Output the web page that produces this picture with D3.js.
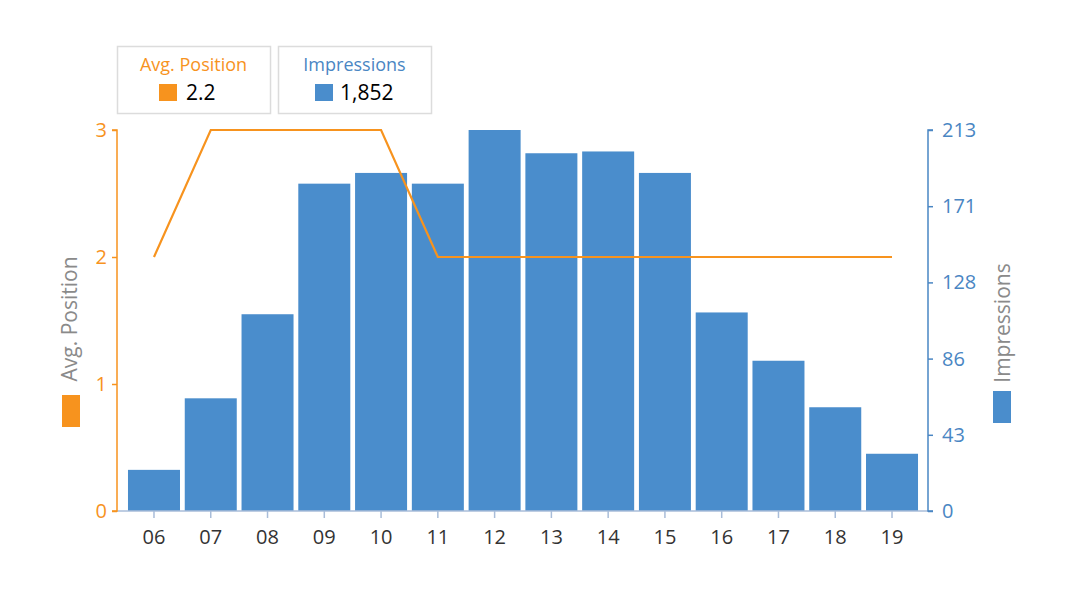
<!DOCTYPE html>
<html><head><meta charset="utf-8">
<script src="https://cdn.jsdelivr.net/npm/d3@7"></script>
<style>body{margin:0;background:#fff}svg{display:block}text{font-family:"Open Sans","Noto Sans",sans-serif}</style>
</head><body>
<svg id="c" width="1073" height="606"></svg>
<script>
const categories = ["06","07","08","09","10","11","12","13","14","15","16","17","18","19"];
const impressions = [23,63,110,183,189,183,213,200,201,189,111,84,58,32];
const avgPosition = [2,3,3,3,3,2,2,2,2,2,2,2,2,2];
const leftTicks = [0,1,2,3];
const rightTickLabels = ["0","43","86","128","171","213"];
const legendValues = ["2.2","1,852"];

const ORANGE = "#F7931E", BLUE = "#4A8DCC", AXBLUE = "#4A86C3";
const svg = d3.select("#c");
const L = 117, R = 928, T = 130, B = 511;

const x = d3.scaleBand().domain(categories).range([125.6, 920.4]).paddingInner(0.084).paddingOuter(0.042);
const yL = d3.scaleLinear().domain([0,3]).range([B,T]);
const yR = d3.scaleLinear().domain([0,213]).range([B,T]);

// bars
svg.append("g").selectAll("rect").data(categories).join("rect")
  .attr("x", d => x(d)).attr("width", x.bandwidth())
  .attr("y", (d,i) => yR(impressions[i])).attr("height", (d,i) => B - yR(impressions[i]))
  .attr("fill", BLUE);

// bottom axis
const gx = svg.append("g").attr("transform", `translate(0,${B})`)
  .call(d3.axisBottom(x).tickSize(7).tickPadding(12));
gx.select(".domain").remove();
gx.append("line").attr("x1", L).attr("x2", R).attr("stroke", "#A9BDD9").attr("stroke-width", 1.5);
gx.selectAll(".tick line").attr("stroke", "#A9BDD9").attr("stroke-width", 1.5);
gx.selectAll(".tick text").attr("fill", "#333").style("font-size", "20px");

// left axis
const gl = svg.append("g").attr("transform", `translate(${L},0)`)
  .call(d3.axisLeft(yL).tickValues(leftTicks).tickFormat(d3.format("d")).tickSize(5).tickSizeOuter(0).tickPadding(5));
gl.select(".domain").attr("stroke", ORANGE).attr("stroke-width", 1.5).attr("d", `M-5,${T}H0V${B}H-5`);
gl.selectAll(".tick line").attr("stroke", ORANGE).attr("stroke-width", 1.5);
gl.selectAll(".tick text").attr("fill", ORANGE).style("font-size", "20px");

// right axis
const rTicks = d3.range(6).map(i => 213 * i / 5);
const gr = svg.append("g").attr("transform", `translate(${R},0)`)
  .call(d3.axisRight(yR).tickValues(rTicks).tickFormat((d,i) => rightTickLabels[i]).tickSize(5).tickSizeOuter(0).tickPadding(9));
gr.select(".domain").attr("stroke", AXBLUE).attr("stroke-width", 1.5).attr("d", `M5,${T}H0V${B}H5`);
gr.selectAll(".tick line").attr("stroke", AXBLUE).attr("stroke-width", 1.5);
gr.selectAll(".tick text").attr("fill", AXBLUE).style("font-size", "20px");

// line
const line = d3.line().x((d,i) => x(categories[i]) + x.bandwidth()/2).y(d => yL(d));
svg.append("path").datum(avgPosition).attr("d", line)
  .attr("fill", "none").attr("stroke", ORANGE).attr("stroke-width", 2.2);

// axis titles
function axisTitle(cx, cy, text, color, rx, ry) {
  svg.append("text").attr("transform", `translate(${cx},${cy}) rotate(-90)`)
    .attr("text-anchor", "middle").attr("dy", "0.35em").attr("fill", "#8a8a8a")
    .style("font-size", "21px").text(text);
  svg.append("rect").attr("x", rx).attr("y", ry).attr("width", 18).attr("height", 32).attr("fill", color);
}
axisTitle(70, 319, "Avg. Position", ORANGE, 62, 395);
axisTitle(1003, 323, "Impressions", BLUE, 993, 391);

// legend
const legend = [
  {title: "Avg. Position", color: ORANGE, tcolor: ORANGE, x: 117},
  {title: "Impressions", color: BLUE, tcolor: AXBLUE, x: 278}
];
legend.forEach((d, i) => {
  const g = svg.append("g").attr("transform", `translate(${d.x},46)`);
  g.append("rect").attr("x", 0.5).attr("y", 0.5).attr("width", 153).attr("height", 67)
    .attr("fill", "#fff").attr("stroke", "#DCDCDC").attr("stroke-width", 1.5);
  g.append("text").attr("x", 76.5).attr("y", 25).attr("text-anchor", "middle")
    .attr("fill", d.tcolor).style("font-size", "18px").text(d.title);
  g.append("rect").attr("x", i === 0 ? 42 : 37).attr("y", 38).attr("width", 18).attr("height", 17).attr("fill", d.color);
  g.append("text").attr("x", i === 0 ? 69 : 62).attr("y", 54).attr("fill", "#000")
    .style("font-size", "21px").text(legendValues[i]);
});
</script>
</body></html>
